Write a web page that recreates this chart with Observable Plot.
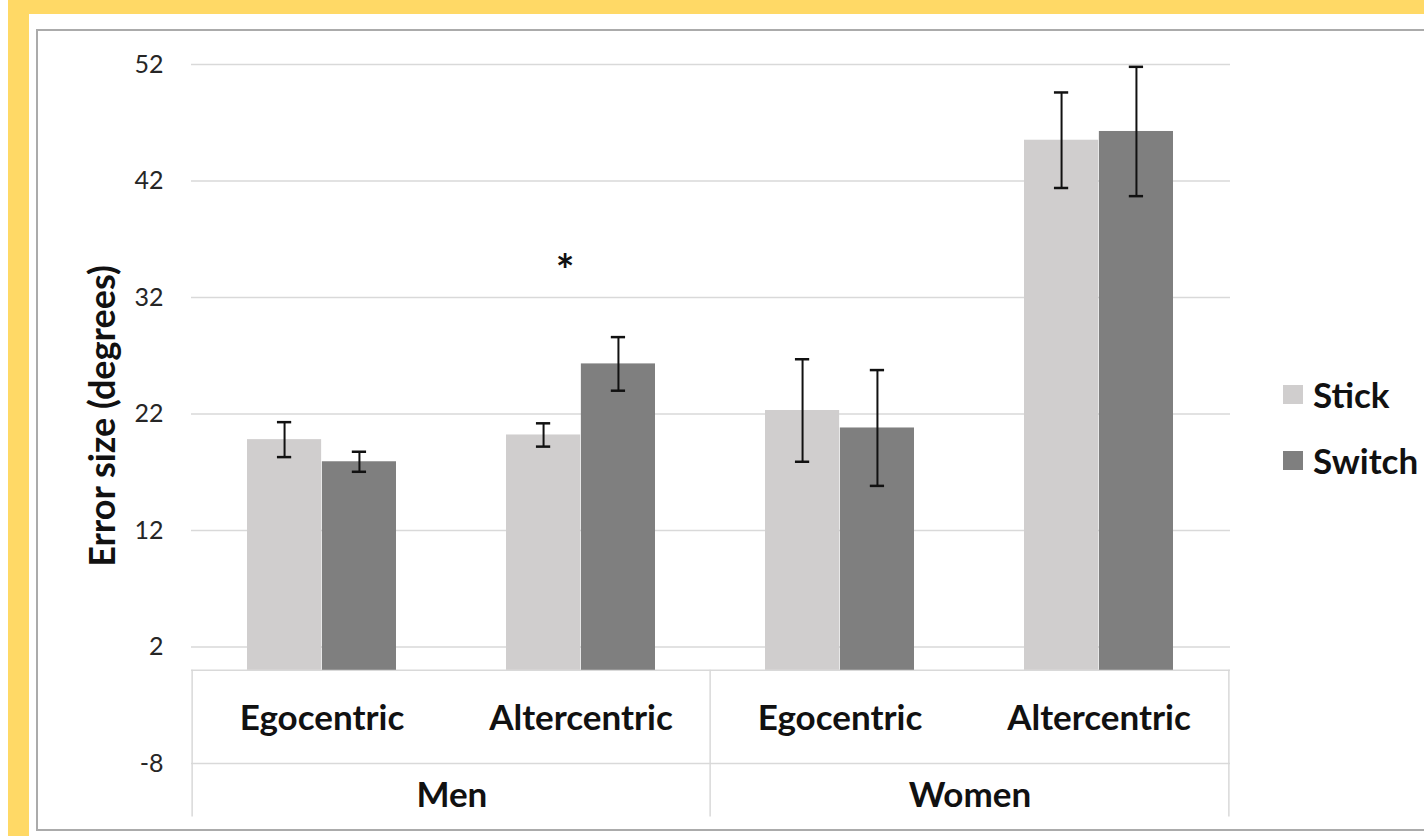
<!DOCTYPE html>
<html>
<head>
<meta charset="utf-8">
<script src="https://cdn.jsdelivr.net/npm/d3@7"></script>
<script src="https://cdn.jsdelivr.net/npm/@observablehq/plot@0.6"></script>
<style>
  html, body { margin: 0; padding: 0; width: 1424px; height: 836px; overflow: hidden; background: #ffffff; font-family: Lato, "Open Sans", sans-serif; }
  .band-top { position: absolute; left: 8px; top: 0; width: 1416px; height: 14px; background: #FFD966; }
  .band-left { position: absolute; left: 8px; top: 0; width: 21px; height: 836px; background: #FFD966; }
  .panel { position: absolute; left: 36px; top: 29px; width: 1420px; height: 802px; box-sizing: border-box; border: 2px solid #ABABAB; background: #ffffff; }
  #chart { position: absolute; left: 0; top: 0; }
  .legend { position: absolute; left: 1283px; top: 0; font-family: Lato, sans-serif; font-weight: 700; font-size: 35px; color: #111; }
  .legend .item { position: absolute; left: 0; display: flex; align-items: center; white-space: nowrap; }
  .legend .sw { width: 20px; height: 19px; margin-right: 10px; }
</style>
</head>
<body>
<div class="band-top"></div>
<div class="band-left"></div>
<div class="panel"></div>
<div id="chart"></div>
<div class="legend" id="legend"></div>
<script>
// Mean angular error per condition, with error-bar half widths
const groups = ["Men", "Men", "Women", "Women"];
const frames = ["Egocentric", "Altercentric", "Egocentric", "Altercentric"];
const conditions = ["Stick", "Switch"];
const stickMean = [19.8, 20.2, 22.3, 45.5];
const stickErr = [1.5, 1.0, 4.4, 4.1];
const switchMean = [17.9, 26.3, 20.8, 46.25];
const switchErr = [0.86, 2.3, 4.97, 5.55];
const yTicks = [-8, 2, 12, 22, 32, 42, 52];
const groupNames = ["Men", "Women"];
const starCategory = 1;   // Men / Altercentric marked as significant
const starLevel = 34.2;

const keys = groups.map((g, i) => `${g}|${frames[i]}`);
const rows = [];
keys.forEach((k, i) => {
  rows.push({key: k, cond: "Stick", mean: stickMean[i], lo: stickMean[i] - stickErr[i], hi: stickMean[i] + stickErr[i]});
  rows.push({key: k, cond: "Switch", mean: switchMean[i], lo: switchMean[i] - switchErr[i], hi: switchMean[i] + switchErr[i]});
});
const stick = rows.filter(d => d.cond === "Stick");
const sw = rows.filter(d => d.cond === "Switch");

// layout
const W = 1424, H = 836;
const mL = 191, mR = W - 1230, mT = 64, mB = H - 763;
const padIn = 0.4235, padOut = padIn / 2;
const step = (W - mL - mR) / (keys.length - padIn + 2 * padOut);
const bw = step * (1 - padIn);
const cap = 7.5;
const tableBottom = -12.6;

const grid = "#D9D9D9";
const colors = ["#D0CECE", "#7F7F7F"];
const ink = "#111";

const plot = Plot.plot({
  width: W, height: H,
  marginLeft: mL, marginRight: mR, marginTop: mT, marginBottom: mB,
  style: {background: "transparent", fontFamily: "Lato, sans-serif", overflow: "visible"},
  x: {type: "band", domain: keys, paddingInner: padIn, paddingOuter: padOut, axis: null},
  y: {domain: [-8, 52], axis: null},
  color: {domain: conditions, range: colors},
  marks: [
    // horizontal gridlines, including the -8 line that splits the label table
    Plot.ruleY(yTicks, {stroke: grid, strokeWidth: 1.5}),
    // top edge of the category table
    Plot.ruleY([0], {stroke: grid, strokeWidth: 1.5}),
    // vertical separators of the category table
    Plot.ruleX([keys[0], keys[2]], {y1: 0, y2: tableBottom, dx: -step / 2, stroke: grid, strokeWidth: 1.5}),
    Plot.ruleX([keys[3]], {y1: 0, y2: tableBottom, dx: step / 2, stroke: grid, strokeWidth: 1.5}),
    // bars
    Plot.barY(stick, {x: "key", y: "mean", fill: "cond", insetRight: bw / 2}),
    Plot.barY(sw, {x: "key", y: "mean", fill: "cond", insetLeft: bw / 2}),
    // error bars
    Plot.ruleX(stick, {x: "key", y1: "lo", y2: "hi", dx: -bw / 4, stroke: ink, strokeWidth: 2}),
    Plot.ruleX(sw, {x: "key", y1: "lo", y2: "hi", dx: bw / 4, stroke: ink, strokeWidth: 2}),
    Plot.tickY(stick, {x: "key", y: "lo", insetLeft: bw / 4 - cap, insetRight: 3 * bw / 4 - cap, stroke: ink, strokeWidth: 2.5}),
    Plot.tickY(stick, {x: "key", y: "hi", insetLeft: bw / 4 - cap, insetRight: 3 * bw / 4 - cap, stroke: ink, strokeWidth: 2.5}),
    Plot.tickY(sw, {x: "key", y: "lo", insetLeft: 3 * bw / 4 - cap, insetRight: bw / 4 - cap, stroke: ink, strokeWidth: 2.5}),
    Plot.tickY(sw, {x: "key", y: "hi", insetLeft: 3 * bw / 4 - cap, insetRight: bw / 4 - cap, stroke: ink, strokeWidth: 2.5}),
    // significance marker
    Plot.text([keys[starCategory]], {x: d => d, y: starLevel, text: () => "*", dx: -16, fontSize: 44, fontWeight: 700, fill: ink}),
    // y axis
    Plot.axisY(yTicks, {tickSize: 0, tickPadding: 28, fontSize: 25, fill: "#262626", label: null, tickFormat: d => String(d)}),
    Plot.text(["Error size (degrees)"], {frameAnchor: "left", textAnchor: "middle", rotate: -90, dx: -88, dy: 2, fontSize: 36, fontWeight: 700, fill: ink}),
    // category labels
    Plot.text(keys, {x: d => d, y: -4.2, text: (d, i) => frames[i], fontSize: 35, fontWeight: 700, fill: ink}),
    Plot.text(groupNames, {x: (d, i) => keys[i * 2], y: -10.8, dx: step / 2, text: d => d, fontSize: 35, fontWeight: 700, fill: ink})
  ]
});
document.getElementById("chart").appendChild(plot);

// legend to the right of the plot
const legend = document.getElementById("legend");
const legendTops = [373, 439];
conditions.forEach((c, i) => {
  const item = document.createElement("div");
  item.className = "item";
  item.style.top = legendTops[i] + "px";
  const swatch = document.createElement("span");
  swatch.className = "sw";
  swatch.style.background = plot.scale("color").apply(c);
  const label = document.createElement("span");
  label.textContent = c;
  item.appendChild(swatch);
  item.appendChild(label);
  legend.appendChild(item);
});
</script>
</body>
</html>
